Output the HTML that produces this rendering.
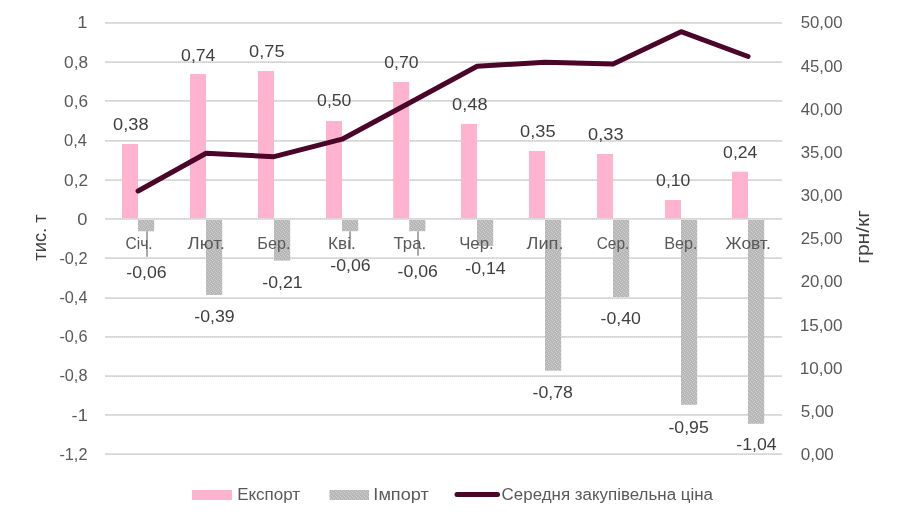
<!DOCTYPE html><html><head><meta charset="utf-8"><title>chart</title><style>html,body{margin:0;padding:0;background:#fff}svg{display:block}text{font-family:"Liberation Sans",sans-serif}</style></head><body>
<svg width="900" height="525" viewBox="0 0 900 525">
<rect width="900" height="525" fill="#fff"/>
<defs><pattern id="gp" width="4" height="4" patternUnits="userSpaceOnUse"><rect width="4" height="4" fill="#b7b7b7"/><rect x="0" y="0" width="1" height="1" fill="#cdcdcd"/><rect x="2" y="1" width="1" height="1" fill="#cdcdcd"/><rect x="1" y="2" width="1" height="1" fill="#cdcdcd"/><rect x="3" y="3" width="1" height="1" fill="#cdcdcd"/></pattern><pattern id="gl" width="2" height="2" patternUnits="userSpaceOnUse"><rect width="2" height="2" fill="#e0e0e0"/><rect width="1" height="1" fill="#cecece"/></pattern></defs>
<rect x="105" y="22" width="677" height="2" fill="url(#gl)"/>
<rect x="105" y="61" width="677" height="2" fill="url(#gl)"/>
<rect x="105" y="100" width="677" height="2" fill="url(#gl)"/>
<rect x="105" y="140" width="677" height="2" fill="url(#gl)"/>
<rect x="105" y="179" width="677" height="2" fill="url(#gl)"/>
<rect x="105" y="218" width="677" height="2" fill="url(#gl)"/>
<rect x="105" y="257" width="677" height="2" fill="url(#gl)"/>
<rect x="105" y="297" width="677" height="2" fill="url(#gl)"/>
<rect x="105" y="336" width="677" height="2" fill="url(#gl)"/>
<rect x="105" y="375" width="677" height="2" fill="url(#gl)"/>
<rect x="105" y="414" width="677" height="2" fill="url(#gl)"/>
<rect x="105" y="453" width="677" height="2" fill="url(#gl)"/>
<rect x="122.00" y="144.00" width="16" height="74.00" fill="#ffb3cf"/>
<rect x="138.00" y="220" width="16.2" height="11.30" fill="url(#gp)"/>
<rect x="190.00" y="74.00" width="16" height="144.00" fill="#ffb3cf"/>
<rect x="206.00" y="220" width="16.2" height="75.00" fill="url(#gp)"/>
<rect x="258.00" y="71.00" width="16" height="147.00" fill="#ffb3cf"/>
<rect x="274.00" y="220" width="16.2" height="40.60" fill="url(#gp)"/>
<rect x="326.00" y="121.00" width="16" height="97.00" fill="#ffb3cf"/>
<rect x="342.00" y="220" width="16.2" height="11.20" fill="url(#gp)"/>
<rect x="393.20" y="82.00" width="16" height="136.00" fill="#ffb3cf"/>
<rect x="409.20" y="220" width="16.2" height="11.20" fill="url(#gp)"/>
<rect x="461.00" y="124.00" width="16" height="94.00" fill="#ffb3cf"/>
<rect x="477.00" y="220" width="16.2" height="26.00" fill="url(#gp)"/>
<rect x="529.00" y="151.00" width="16" height="67.00" fill="#ffb3cf"/>
<rect x="545.00" y="220" width="16.2" height="150.70" fill="url(#gp)"/>
<rect x="597.00" y="154.00" width="16" height="64.00" fill="#ffb3cf"/>
<rect x="613.00" y="220" width="16.2" height="77.00" fill="url(#gp)"/>
<rect x="665.00" y="200.00" width="16" height="18.00" fill="#ffb3cf"/>
<rect x="681.00" y="220" width="16.2" height="184.80" fill="url(#gp)"/>
<rect x="732.00" y="171.70" width="16" height="46.30" fill="#ffb3cf"/>
<rect x="748.00" y="220" width="16.2" height="203.80" fill="url(#gp)"/>
<line x1="147" y1="231.2" x2="147" y2="256.7" stroke="#8c8c8c" stroke-width="1.5"/>
<line x1="350" y1="231.2" x2="350" y2="249.3" stroke="#8c8c8c" stroke-width="1.5"/>
<line x1="418" y1="231.2" x2="418" y2="255.7" stroke="#8c8c8c" stroke-width="1.5"/>
<text transform="translate(125.45,248.70) scale(0.9741,1)" font-size="16" fill="#595959">Січ.</text>
<text transform="translate(187.50,248.70) scale(1.1613,1)" font-size="16" fill="#595959">Лют.</text>
<text transform="translate(257.34,248.70) scale(1.0097,1)" font-size="16" fill="#595959">Бер.</text>
<text transform="translate(328.08,248.70) scale(1.0708,1)" font-size="16" fill="#595959">Кві.</text>
<text transform="translate(393.55,248.70) scale(1.0500,1)" font-size="16" fill="#595959">Тра.</text>
<text transform="translate(459.20,248.70) scale(1.0484,1)" font-size="16" fill="#595959">Чер.</text>
<text transform="translate(526.50,248.70) scale(1.1355,1)" font-size="16" fill="#595959">Лип.</text>
<text transform="translate(596.70,248.70) scale(0.9636,1)" font-size="16" fill="#595959">Сер.</text>
<text transform="translate(664.23,248.70) scale(1.0161,1)" font-size="16" fill="#595959">Вер.</text>
<text transform="translate(725.55,248.70) scale(1.0854,1)" font-size="16" fill="#595959">Жовт.</text>
<text transform="translate(77.17,28.10) scale(1.1150,1)" font-size="16.4" fill="#595959">1</text>
<text transform="translate(64.10,67.98) scale(1.0500,1)" font-size="16.4" fill="#595959">0,8</text>
<text transform="translate(64.10,107.16) scale(1.0500,1)" font-size="16.4" fill="#595959">0,6</text>
<text transform="translate(64.10,146.35) scale(1.0043,1)" font-size="16.4" fill="#595959">0,4</text>
<text transform="translate(64.10,185.53) scale(1.0500,1)" font-size="16.4" fill="#595959">0,2</text>
<text transform="translate(77.17,224.71) scale(1.1150,1)" font-size="16.4" fill="#595959">0</text>
<text transform="translate(59.40,263.89) scale(0.9929,1)" font-size="16.4" fill="#595959">-0,2</text>
<text transform="translate(59.40,303.07) scale(0.9929,1)" font-size="16.4" fill="#595959">-0,4</text>
<text transform="translate(59.40,342.25) scale(0.9929,1)" font-size="16.4" fill="#595959">-0,6</text>
<text transform="translate(59.40,381.44) scale(0.9929,1)" font-size="16.4" fill="#595959">-0,8</text>
<text transform="translate(71.59,420.62) scale(1.1150,1)" font-size="16.4" fill="#595959">-1</text>
<text transform="translate(59.40,459.80) scale(0.9929,1)" font-size="16.4" fill="#595959">-1,2</text>
<text transform="translate(800.70,28.10) scale(1.0220,1)" font-size="16.4" fill="#595959">50,00</text>
<text transform="translate(800.70,71.90) scale(1.0220,1)" font-size="16.4" fill="#595959">45,00</text>
<text transform="translate(800.70,115.00) scale(1.0220,1)" font-size="16.4" fill="#595959">40,00</text>
<text transform="translate(800.70,158.10) scale(1.0220,1)" font-size="16.4" fill="#595959">35,00</text>
<text transform="translate(800.70,201.20) scale(1.0220,1)" font-size="16.4" fill="#595959">30,00</text>
<text transform="translate(800.70,244.30) scale(1.0220,1)" font-size="16.4" fill="#595959">25,00</text>
<text transform="translate(800.70,287.40) scale(1.0220,1)" font-size="16.4" fill="#595959">20,00</text>
<text transform="translate(799.65,330.50) scale(1.0475,1)" font-size="16.4" fill="#595959">15,00</text>
<text transform="translate(799.65,373.60) scale(1.0475,1)" font-size="16.4" fill="#595959">10,00</text>
<text transform="translate(800.70,416.70) scale(1.0375,1)" font-size="16.4" fill="#595959">5,00</text>
<text transform="translate(800.70,459.80) scale(1.0375,1)" font-size="16.4" fill="#595959">0,00</text>
<text transform="translate(113.10,130.00) scale(1.1097,1)" font-size="16.4" fill="#404040">0,38</text>
<text transform="translate(126.30,277.50) scale(1.0811,1)" font-size="16.4" fill="#404040">-0,06</text>
<text transform="translate(181.10,60.50) scale(1.0750,1)" font-size="16.4" fill="#404040">0,74</text>
<text transform="translate(194.30,321.70) scale(1.0811,1)" font-size="16.4" fill="#404040">-0,39</text>
<text transform="translate(249.10,57.30) scale(1.1097,1)" font-size="16.4" fill="#404040">0,75</text>
<text transform="translate(262.30,288.00) scale(1.0811,1)" font-size="16.4" fill="#404040">-0,21</text>
<text transform="translate(317.10,105.80) scale(1.0750,1)" font-size="16.4" fill="#404040">0,50</text>
<text transform="translate(330.30,271.00) scale(1.0811,1)" font-size="16.4" fill="#404040">-0,06</text>
<text transform="translate(384.30,68.10) scale(1.0750,1)" font-size="16.4" fill="#404040">0,70</text>
<text transform="translate(397.50,276.70) scale(1.0811,1)" font-size="16.4" fill="#404040">-0,06</text>
<text transform="translate(452.10,110.00) scale(1.1097,1)" font-size="16.4" fill="#404040">0,48</text>
<text transform="translate(465.30,273.50) scale(1.0811,1)" font-size="16.4" fill="#404040">-0,14</text>
<text transform="translate(520.10,136.60) scale(1.1097,1)" font-size="16.4" fill="#404040">0,35</text>
<text transform="translate(532.50,398.30) scale(1.0811,1)" font-size="16.4" fill="#404040">-0,78</text>
<text transform="translate(588.10,139.70) scale(1.1097,1)" font-size="16.4" fill="#404040">0,33</text>
<text transform="translate(600.50,324.00) scale(1.0811,1)" font-size="16.4" fill="#404040">-0,40</text>
<text transform="translate(656.10,185.50) scale(1.0750,1)" font-size="16.4" fill="#404040">0,10</text>
<text transform="translate(668.40,432.70) scale(1.0811,1)" font-size="16.4" fill="#404040">-0,95</text>
<text transform="translate(723.10,158.30) scale(1.0750,1)" font-size="16.4" fill="#404040">0,24</text>
<text transform="translate(736.30,450.00) scale(1.0811,1)" font-size="16.4" fill="#404040">-1,04</text>
<polyline points="138.10,191 206.10,153.3 274.10,156.7 342.10,139.2 409.30,103 477.10,66.3 545.10,62.2 613.10,64 681.10,31.7 748.10,56.5" fill="none" stroke="#4a0528" stroke-width="5" stroke-linecap="round" stroke-linejoin="round"/>
<rect x="192" y="490" width="40" height="10" fill="#ffb3cf"/>
<rect x="329.5" y="490" width="39.5" height="10" fill="url(#gp)"/>
<line x1="457" y1="494.5" x2="497.5" y2="494.5" stroke="#4a0528" stroke-width="5" stroke-linecap="round"/>
<text transform="translate(237.14,500.00) scale(1.0621,1)" font-size="16" fill="#595959">Експорт</text>
<text transform="translate(373.37,500.00) scale(1.1333,1)" font-size="16" fill="#595959">Імпорт</text>
<text transform="translate(501.60,500.00) scale(1.0580,1)" font-size="16" fill="#595959">Середня закупівельна ціна</text>
<text transform="translate(45.90,260.70) rotate(-90) scale(0.9957,1)" font-size="18.4" fill="#404040">тис. т</text>
<text transform="translate(868.70,263.80) rotate(-90) scale(1.1457,1)" font-size="18.4" fill="#404040">грн/кг</text>
</svg></body></html>
